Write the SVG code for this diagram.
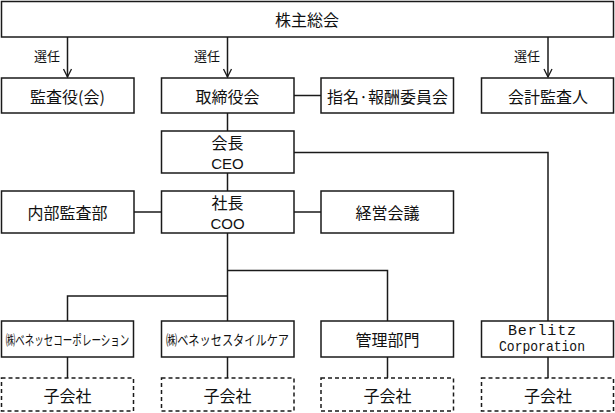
<svg xmlns="http://www.w3.org/2000/svg" width="615" height="413" viewBox="0 0 615 413">
<style>
.box{fill:#fff;stroke:#1a1a1a;stroke-width:1.5}
.dash{fill:#fff;stroke:#1a1a1a;stroke-width:1.5;stroke-dasharray:4 3}
.ln{fill:none;stroke:#1a1a1a;stroke-width:1.5}
text{font-family:"Noto Sans CJK JP","Noto Sans",sans-serif;font-size:16px;fill:#111;text-anchor:middle;dominant-baseline:central}
.sm{font-size:13px}
.lat{font-family:"Liberation Sans",Arial,sans-serif;font-size:15px}
.mono{font-family:"Liberation Mono","DejaVu Sans Mono",monospace;font-size:15px}
</style>
<defs>
<marker id="arr" viewBox="0 0 10 10" refX="9" refY="5" markerWidth="10" markerHeight="10" markerUnits="userSpaceOnUse" orient="auto">
<path d="M1,1 L9,5 L1,9" fill="none" stroke="#1a1a1a" stroke-width="1.3"/>
</marker>
</defs>
<g id="connectors">
<line class="ln" x1="67.5" y1="37" x2="67.5" y2="77" marker-end="url(#arr)"/>
<line class="ln" x1="227.5" y1="37" x2="227.5" y2="77" marker-end="url(#arr)"/>
<line class="ln" x1="548" y1="37" x2="548" y2="77" marker-end="url(#arr)"/>
<text x="47" y="55" class="sm">選任</text>
<text x="207" y="55" class="sm">選任</text>
<text x="527" y="55" class="sm">選任</text>
<line class="ln" x1="294" y1="95.5" x2="321" y2="95.5"/>
<line class="ln" x1="227.5" y1="113" x2="227.5" y2="131"/>
<polyline class="ln" points="294,152.5 548,152.5 548,321"/>
<line class="ln" x1="227.5" y1="173" x2="227.5" y2="191"/>
<line class="ln" x1="134" y1="212" x2="161" y2="212"/>
<line class="ln" x1="294" y1="212" x2="321" y2="212"/>
<line class="ln" x1="227.5" y1="233" x2="227.5" y2="321"/>
<polyline class="ln" points="227.5,270.5 387.5,270.5 387.5,321"/>
<polyline class="ln" points="227.5,296 67.5,296 67.5,321"/>
<line class="ln" x1="67.5" y1="357" x2="67.5" y2="378"/>
<line class="ln" x1="227.5" y1="357" x2="227.5" y2="378"/>
<line class="ln" x1="387.5" y1="357" x2="387.5" y2="378"/>
<line class="ln" x1="548" y1="357" x2="548" y2="378"/>
</g>
<g id="shareholders"><rect class="box" x="1.5" y="1.5" width="612" height="35.5"/><text x="307" y="19">株主総会</text></g>
<g id="auditors"><rect class="box" x="1.5" y="78" width="132.5" height="35"/><text x="67.5" y="96">監査役(会)</text></g>
<g id="board"><rect class="box" x="161.5" y="78" width="132.5" height="35"/><text x="227.5" y="96">取締役会</text></g>
<g id="committee"><rect class="box" x="321" y="78" width="132.5" height="35"/><text x="387.5" y="96">指名·報酬委員会</text></g>
<g id="accounting"><rect class="box" x="481.5" y="78" width="132" height="35"/><text x="548" y="96">会計監査人</text></g>
<g id="ceo"><rect class="box" x="161.5" y="131" width="132.5" height="42"/><text x="227.5" y="142">会長</text><text x="227.5" y="163" class="lat">CEO</text></g>
<g id="internal-audit"><rect class="box" x="1.5" y="191" width="132.5" height="42"/><text x="67.5" y="212">内部監査部</text></g>
<g id="coo"><rect class="box" x="161.5" y="191" width="132.5" height="42"/><text x="227.5" y="202">社長</text><text x="227.5" y="223" class="lat">COO</text></g>
<g id="management-meeting"><rect class="box" x="321" y="191" width="132.5" height="42"/><text x="387.5" y="212">経営会議</text></g>
<g id="benesse-corp"><rect class="box" x="1.5" y="321" width="132" height="36"/><text transform="translate(67.5 339) scale(0.68 1)" style="font-size:14px">㈱ベネッセコーポレーション</text></g>
<g id="benesse-stylecare"><rect class="box" x="161.5" y="321" width="132.5" height="36"/><text transform="translate(227.5 339) scale(0.8 1)" style="font-size:14px">㈱ベネッセスタイルケア</text></g>
<g id="admin"><rect class="box" x="321" y="321" width="132.5" height="36"/><text x="387.5" y="339">管理部門</text></g>
<g id="berlitz"><rect class="box" x="481.5" y="321" width="132" height="36"/><text x="542" y="331" class="mono" textLength="68" lengthAdjust="spacing">Berlitz</text><text x="542" y="347" class="mono" textLength="86" lengthAdjust="spacingAndGlyphs">Corporation</text></g>
<g id="sub1"><rect class="dash" x="1.5" y="378" width="132" height="33"/><text x="67.5" y="395">子会社</text></g>
<g id="sub2"><rect class="dash" x="161.5" y="378" width="132.5" height="33"/><text x="227.5" y="395">子会社</text></g>
<g id="sub3"><rect class="dash" x="321" y="378" width="132.5" height="33"/><text x="387.5" y="395">子会社</text></g>
<g id="sub4"><rect class="dash" x="481.5" y="378" width="132" height="33"/><text x="548" y="395">子会社</text></g>
</svg>
